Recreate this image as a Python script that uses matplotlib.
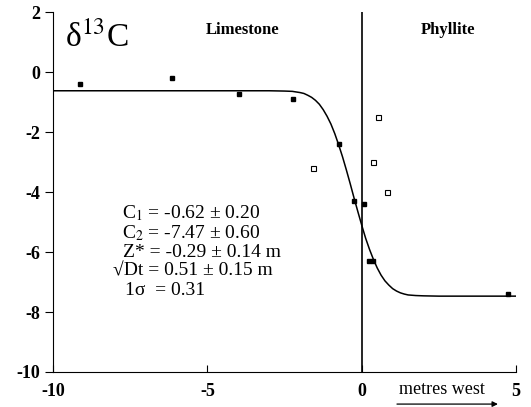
import numpy as np
import matplotlib.pyplot as plt

plt.rcParams['font.family'] = ['Liberation Serif', 'DejaVu Serif']
plt.rcParams['mathtext.fontset'] = 'stix'
plt.rcParams['axes.unicode_minus'] = False

# limestone / phyllite samples (filled = limestone profile, open = phyllite)
x_filled = [-9.12, -6.14, -3.99, -2.24, -0.75, -0.26, 0.06, 0.22, 0.36, 4.74]
y_filled = [-0.40, -0.20, -0.73, -0.90, -2.40, -4.30, -4.40, -6.30, -6.30, -7.40]
x_open = [-1.59, 0.52, 0.36, 0.81]
y_open = [-3.20, -1.50, -3.00, -4.00]

# fitted profile
x_fit = [-10, -3, -2.5, -2.25, -2, -1.875, -1.75, -1.625, -1.5, -1.375, -1.25,
         -1.125, -1, -0.875, -0.75, -0.625, -0.5, -0.375, -0.25, -0.125,
         0, 0.125, 0.25, 0.375, 0.5, 0.625, 0.75, 0.875, 1, 1.125, 1.25,
         1.375, 1.5, 1.75, 2, 2.5, 5]
y_fit = [-0.62, -0.62, -0.63, -0.64, -0.68, -0.71, -0.77, -0.84, -0.94, -1.07, -1.25,
         -1.47, -1.73, -2.05, -2.42, -2.82, -3.26, -3.72, -4.20, -4.66,
         -5.11, -5.54, -5.91, -6.24, -6.53, -6.77, -6.96, -7.10, -7.22, -7.30, -7.36,
         -7.40, -7.43, -7.45, -7.46, -7.47, -7.47]

fit_lines = [r"C$_1$ = -0.62 ± 0.20",
             r"C$_2$ = -7.47 ± 0.60",
             "Z* = -0.29 ± 0.14 m",
             "√Dt = 0.51 ± 0.15 m",
             "1σ  = 0.31"]
fit_x = [-7.76, -7.76, -7.72, -8.05, -7.66]
fit_y = [-4.7, -5.37, -6.0, -6.63, -7.27]

fig = plt.figure(figsize=(5.31, 4.07), dpi=100)
ax = fig.add_axes([0.100, 0.086, 0.872, 0.884])

ax.plot(x_fit, y_fit, color='black', lw=1.1)
ax.plot(x_filled, y_filled, 's', color='black', ms=3.4)
ax.plot(x_open, y_open, 's', mfc='white', mec='black', mew=0.8, ms=3.6)
ax.axvline(0, color='black', lw=1.2)

ax.set_xlim(-10, 5)
ax.set_ylim(-10, 2)
ax.set_xticks([-10, -5, 0, 5])
ax.set_yticks([2, 0, -2, -4, -6, -8, -10])
ax.spines['top'].set_visible(False)
ax.spines['right'].set_visible(False)
ax.tick_params(axis='x', direction='in', length=5, labelsize=13, pad=8)
ax.tick_params(axis='y', direction='out', length=6, labelsize=13, pad=3)
for lab in ax.get_xticklabels() + ax.get_yticklabels():
    lab.set_fontweight('bold')

ax.text(-9.6, 1.15, r"δ$^{13}$C", fontsize=24, va='center', ha='left')
ax.text(-3.85, 1.4, "Limestone", fontsize=12, fontweight='bold', ha='center', va='center')
ax.text(2.8, 1.4, "Phyllite", fontsize=12, fontweight='bold', ha='center', va='center')

for s, tx, ty in zip(fit_lines, fit_x, fit_y):
    ax.text(tx, ty, s, fontsize=14, ha='left', va='center')

ax.text(2.6, -10.6, "metres west", fontsize=13, ha='center', va='center', clip_on=False)
ax.annotate("", xy=(4.5, -11.07), xytext=(1.05, -11.07), xycoords='data',
            arrowprops=dict(arrowstyle='-|>', color='black', lw=0.9,
                            mutation_scale=8), annotation_clip=False)

plt.savefig("out.png", dpi=100)
